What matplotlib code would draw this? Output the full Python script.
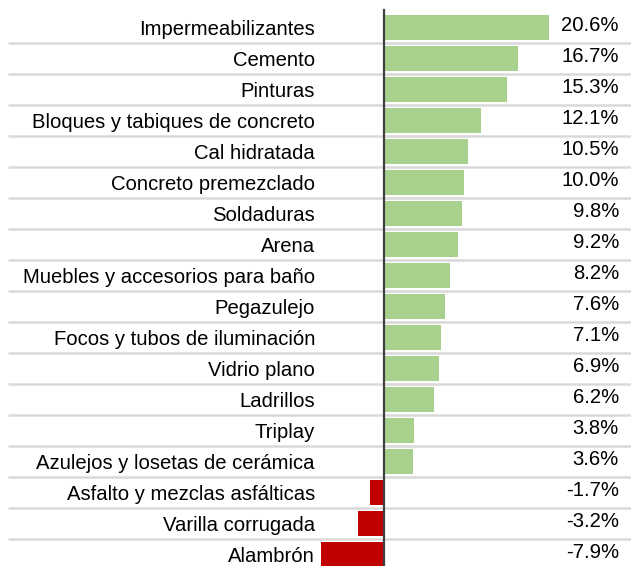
import matplotlib
matplotlib.use('Agg')
import matplotlib.pyplot as plt
import matplotlib.transforms as mtransforms

categories = ['Impermeabilizantes', 'Cemento', 'Pinturas', 'Bloques y tabiques de concreto',
              'Cal hidratada', 'Concreto premezclado', 'Soldaduras', 'Arena',
              'Muebles y accesorios para baño', 'Pegazulejo', 'Focos y tubos de iluminación',
              'Vidrio plano', 'Ladrillos', 'Triplay', 'Azulejos y losetas de cerámica',
              'Asfalto y mezclas asfálticas', 'Varilla corrugada', 'Alambrón']
values = [20.6, 16.7, 15.3, 12.1, 10.5, 10.0, 9.8, 9.2, 8.2, 7.6, 7.1, 6.9, 6.2, 3.8, 3.6,
          -1.7, -3.2, -7.9]
labels = ['{:.1f}%'.format(v) for v in values]

plt.rcParams['font.family'] = ['Liberation Sans', 'DejaVu Sans']

fig = plt.figure(figsize=(6.31, 5.66), dpi=100)
ax = fig.add_axes([0, 0, 1, 1])
ax.axis('off')

W = 631.0
scale = 8.01  # px per unit
x0 = 384.0
ax.set_xlim(-x0 / scale, (W - x0) / scale)
ax.set_ylim((566 - 27.5) / 31.0, -27.5 / 31.0)

ypos = list(range(len(categories)))
colors = ['#a9d18e' if v >= 0 else '#c00000' for v in values]
ax.barh(ypos, values, height=0.8, color=colors, zorder=2)

# separators between rows
for i in range(len(categories) - 1):
    ax.plot([8 / W, 1], [i + 0.5, i + 0.5], transform=ax.get_yaxis_transform(),
            color='#d9d9d9', lw=1.8, zorder=1, solid_capstyle='butt')

ax.plot([0, 0], [-0.55, len(categories)], color='#404040', lw=1.6, zorder=3)

trans = mtransforms.blended_transform_factory(ax.transAxes, ax.transData)
for i, (c, lab) in enumerate(zip(categories, labels)):
    ax.text(315 / W, i + 0.08, c, transform=trans, ha='right', va='center', fontsize=14.6, color='#000000')
    ax.text(619 / W, i - 0.065, lab, transform=trans, ha='right', va='center', fontsize=14.6, color='#000000')

fig.savefig('out.png', dpi=100)
